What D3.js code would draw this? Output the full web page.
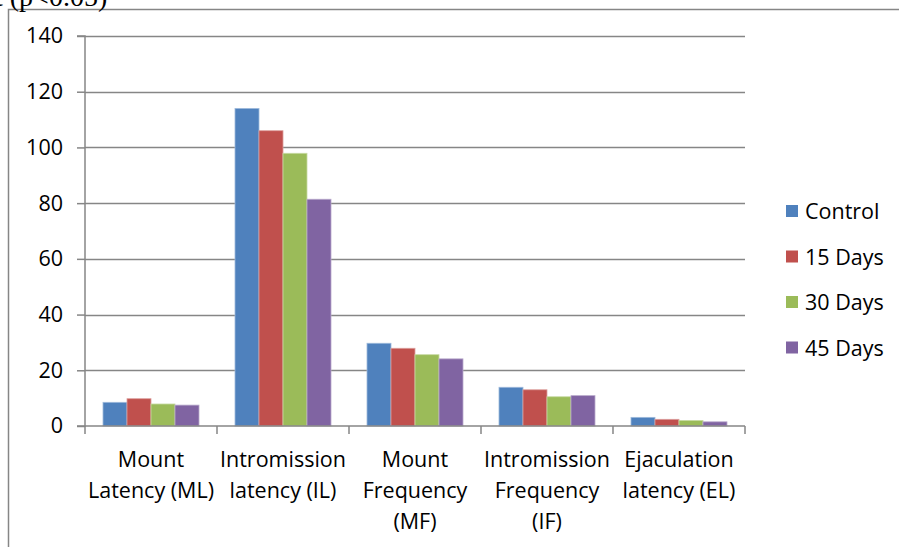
<!DOCTYPE html>
<html>
<head>
<meta charset="utf-8">
<script src="https://cdn.jsdelivr.net/npm/d3@7"></script>
<style>
  html, body { margin: 0; padding: 0; background: #fff; }
  svg { display: block; }
  text { font-family: "Open Sans", "Noto Sans", sans-serif; fill: #000; }
</style>
</head>
<body>
<svg id="chart" width="899" height="547"></svg>
<script>
// Sexual behaviour parameters per treatment group
const categories = [
  ["Mount", "Latency (ML)"],
  ["Intromission", "latency (IL)"],
  ["Mount", "Frequency", "(MF)"],
  ["Intromission", "Frequency", "(IF)"],
  ["Ejaculation", "latency (EL)"]
];
const seriesNames = ["Control", "15 Days", "30 Days", "45 Days"];
const control = [8.5, 114.0, 29.7, 13.9, 3.1];
const days15  = [9.8, 106.0, 27.9, 13.0, 2.4];
const days30  = [7.9, 97.9, 25.6, 10.5, 2.0];
const days45  = [7.5, 81.4, 24.1, 10.9, 1.5];
const yTicks = [0, 20, 40, 60, 80, 100, 120, 140];
const colors = ["#4F81BD", "#C0504D", "#9BBB59", "#8064A2"];

const series = [control, days15, days30, days45];

const svg = d3.select("#chart");
const gridColor = "#868686";
const fontSize = "21.5px";

// Outer chart frame (only top and left edges fall inside the view)
svg.append("path")
  .attr("d", "M8.5,547 V9.5 H899")
  .attr("fill", "none")
  .attr("stroke", gridColor)
  .attr("stroke-width", 1.5);

// Caption fragment above the frame
svg.append("text")
  .attr("x", -5).attr("y", 6)
  .style("font-family", "'Liberation Serif', 'DejaVu Serif', serif")
  .style("font-size", "28px")
  .text("t (p˂0.05)");

const plot = { left: 85, right: 745, top: 36, bottom: 426 };

const x0 = d3.scaleBand()
  .domain(d3.range(categories.length))
  .range([plot.left, plot.right])
  .paddingInner(0.2727)
  .paddingOuter(0.1364);
const x1 = d3.scaleBand()
  .domain(d3.range(seriesNames.length))
  .range([0, x0.bandwidth()]);
const y = d3.scaleLinear().domain([0, 140]).range([plot.bottom, plot.top]);

// Horizontal gridlines
svg.append("g")
  .selectAll("line")
  .data(yTicks.filter(d => d > 0))
  .join("line")
  .attr("x1", plot.left).attr("x2", plot.right)
  .attr("y1", d => Math.round(y(d)) + 0.5).attr("y2", d => Math.round(y(d)) + 0.5)
  .attr("stroke", gridColor).attr("stroke-width", 1.5);

// Bars
const groups = svg.append("g")
  .selectAll("g")
  .data(categories.map((c, i) => i))
  .join("g")
  .attr("transform", i => `translate(${x0(i)},0)`);

groups.selectAll("rect")
  .data(i => series.map((s, k) => ({ k, v: s[i] })))
  .join("rect")
  .attr("x", d => x1(d.k))
  .attr("width", x1.bandwidth())
  .attr("y", d => y(d.v))
  .attr("height", d => y(0) - y(d.v))
  .attr("fill", d => colors[d.k])
  .attr("stroke", d => d3.interpolateRgb(colors[d.k], "#fff")(0.45))
  .attr("stroke-width", 0.8);

// Y axis
const yAxis = d3.axisLeft(y).tickValues(yTicks).tickSize(8).tickPadding(14);
const gy = svg.append("g")
  .attr("transform", `translate(${plot.left},0)`)
  .call(yAxis);
gy.select(".domain").attr("stroke", gridColor).attr("stroke-width", 1.5)
  .attr("d", `M-8,${plot.top}H0V${plot.bottom}H-8`);
gy.selectAll(".tick line").attr("stroke", gridColor).attr("stroke-width", 1.5);
gy.selectAll(".tick text")
  .style("font-family", "'Open Sans', sans-serif")
  .style("font-size", fontSize)
  .attr("fill", "#000");

// X axis with category boundary ticks
const xAxisG = svg.append("g");
xAxisG.append("line")
  .attr("x1", plot.left).attr("x2", plot.right)
  .attr("y1", plot.bottom).attr("y2", plot.bottom)
  .attr("stroke", gridColor).attr("stroke-width", 1.5);
const boundaries = d3.range(categories.length + 1).map(i =>
  i < categories.length ? x0(i) - x0.step() * x0.paddingInner() / 2 : plot.right);
xAxisG.selectAll("line.b")
  .data(boundaries)
  .join("line")
  .attr("class", "b")
  .attr("x1", d => d).attr("x2", d => d)
  .attr("y1", plot.bottom).attr("y2", plot.bottom + 8)
  .attr("stroke", gridColor).attr("stroke-width", 1.5);

// Category labels
const labels = svg.append("g")
  .selectAll("text")
  .data(categories.map((c, i) => ({ c, i })))
  .join("text")
  .attr("text-anchor", "middle")
  .style("font-size", fontSize)
  .attr("x", d => x0(d.i) + x0.bandwidth() / 2)
  .attr("y", 467);
labels.selectAll("tspan")
  .data(d => d.c.map((t, j) => ({ t, j, x: x0(d.i) + x0.bandwidth() / 2 })))
  .join("tspan")
  .attr("x", d => d.x)
  .attr("dy", d => d.j === 0 ? 0 : 31)
  .text(d => d.t);

// Legend
const legend = svg.append("g")
  .selectAll("g")
  .data(seriesNames.map((n, k) => ({ n, k })))
  .join("g")
  .attr("transform", d => `translate(786,${211 + d.k * 45.5})`);
legend.append("rect")
  .attr("x", 0).attr("y", -6).attr("width", 12).attr("height", 12)
  .attr("fill", d => colors[d.k]);
legend.append("text")
  .attr("x", 19).attr("y", 8)
  .style("font-size", fontSize)
  .text(d => d.n);
</script>
</body>
</html>
